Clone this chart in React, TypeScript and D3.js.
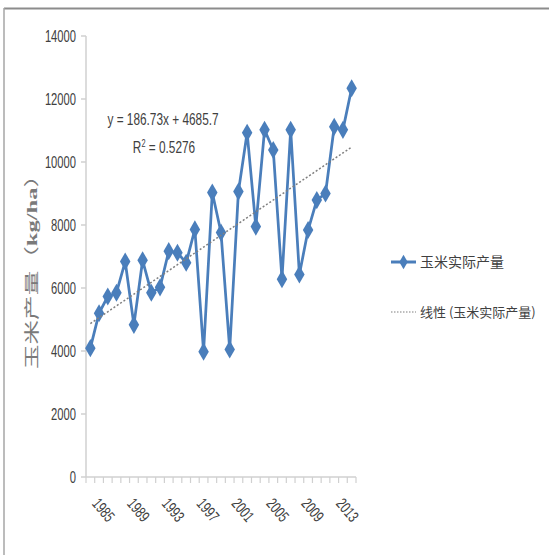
import React from "react";
import * as d3 from "d3";

const years: number[] = d3.range(1985, 2016);
const yieldValues: number[] = [
  4090, 5200, 5730, 5850, 6840, 4830, 6880, 5850, 6020, 7170,
  7120, 6800, 7860, 3980, 9030, 7760, 4050, 9060, 10930, 7950,
  11020, 10380, 6280, 11020, 6430, 7840, 8790, 9000, 11120, 11020,
  12340,
];
const yTicks: number[] = [0, 2000, 4000, 6000, 8000, 10000, 12000, 14000];
const xLabelYears: number[] = [1985, 1989, 1993, 1997, 2001, 2005, 2009, 2013];
const slope = 186.73;
const intercept = 4685.7;
const eqText = "y = 186.73x + 4685.7";
const r2Value = "0.5276";
const seriesName = "玉米实际产量";
const trendName = "线性 (玉米实际产量)";

const BLUE = "#4A7EBB";
const SANS = "'Liberation Sans', Arial, sans-serif";
const SX = 0.7;

export default function App() {
  const W = 549, H = 555;
  const left = 86, right = 356, top = 36, bottom = 477;
  const x = d3.scaleBand<number>().domain(years).range([left, right]);
  const y = d3.scaleLinear().domain([0, 14000]).range([bottom, top]);
  const cx = (yr: number) => (x(yr) as number) + x.bandwidth() / 2;

  const line = d3.line<number>().x((_, i) => cx(years[i])).y((v) => y(v));
  const trendPts = years.map((yr, i) => [cx(yr), y(slope * (i + 1) + intercept)] as [number, number]);
  const trendPath = d3.line()(trendPts) as string;
  const diamond = d3.symbol().type(d3.symbolDiamond).size(95)() as string;
  const boundaries = years.map((yr) => x(yr) as number).concat([right]);

  return (
    <svg width={W} height={H} style={{ position: "absolute", left: 0, top: 0, background: "#fff" }}>
      {/* frame */}
      <line x1={4} y1={8.5} x2={W} y2={8.5} stroke="#8c8c8c" strokeWidth={2} />
      <line x1={4} y1={8} x2={4} y2={H} stroke="#a6a6a6" strokeWidth={1.5} />

      {/* y axis */}
      <line x1={left} y1={top} x2={left} y2={bottom} stroke="#d0d0d0" strokeWidth={1.5} />
      {yTicks.map((t) => (
        <g key={t}>
          <line x1={left - 5} x2={left} y1={y(t)} y2={y(t)} stroke="#d0d0d0" strokeWidth={1.5} />
          <text
            transform={`translate(${left - 10},${y(t)}) scale(${SX},1)`}
            dy="0.36em"
            textAnchor="end"
            fontFamily={SANS}
            fontSize={16}
            fill="#404040"
          >
            {t}
          </text>
        </g>
      ))}

      {/* x axis */}
      <line x1={left} y1={bottom} x2={right} y2={bottom} stroke="#d0d0d0" strokeWidth={1.5} />
      {boundaries.map((b, i) => (
        <line key={i} x1={b} x2={b} y1={bottom} y2={bottom + 6} stroke="#d0d0d0" strokeWidth={1.2} />
      ))}
      {xLabelYears.map((yr) => (
        <text
          key={yr}
          transform={`translate(${cx(yr) + 1},${bottom + 27}) rotate(50) scale(${SX},1)`}
          fontFamily={SANS}
          fontSize={16}
          fill="#404040"
        >
          {yr}
        </text>
      ))}

      {/* y title */}
      <text
        transform={`translate(37,266) rotate(-90)`}
        textAnchor="middle"
        fontFamily="'Noto Sans CJK SC', sans-serif"
        fontSize={15}
        fill="#7a7a7a"
        textLength={206}
        lengthAdjust="spacingAndGlyphs"
      >
        玉米产量（<tspan fontFamily="'Liberation Serif', serif" fontWeight="bold">kg/ha</tspan>）
      </text>

      {/* series */}
      <path d={line(yieldValues) as string} fill="none" stroke={BLUE} strokeWidth={2.75} strokeLinejoin="round" />
      {yieldValues.map((v, i) => (
        <path key={i} d={diamond} transform={`translate(${cx(years[i])},${y(v)})`} fill={BLUE} />
      ))}

      {/* trend */}
      <path d={trendPath} fill="none" stroke="#7f7f7f" strokeWidth={1.5} strokeDasharray="2,2" />

      {/* equation */}
      <text
        transform={`translate(163,125) scale(0.74,1)`}
        textAnchor="middle"
        fontFamily={SANS}
        fontSize={16}
        fill="#404040"
      >
        {eqText}
      </text>
      <text
        transform={`translate(164,153) scale(0.74,1)`}
        textAnchor="middle"
        fontFamily={SANS}
        fontSize={16}
        fill="#404040"
      >
        R<tspan dy={-6} fontSize={10}>2</tspan>
        <tspan dy={6}> = {r2Value}</tspan>
      </text>

      {/* legend */}
      <line x1={391} x2={416} y1={262} y2={262} stroke={BLUE} strokeWidth={3} />
      <path d={diamond} transform="translate(403.5,262) scale(0.8)" fill={BLUE} />
      <text x={420} y={262} dy="0.35em" fontFamily="'Noto Sans CJK SC', sans-serif" fontSize={14} fill="#404040">
        {seriesName}
      </text>
      <line x1={391} x2={416} y1={312} y2={312} stroke="#7f7f7f" strokeWidth={1.2} strokeDasharray="1.5,1.5" />
      <text x={420} y={312} dy="0.35em" fontFamily="'Noto Sans CJK SC', sans-serif" fontSize={13} fill="#404040">
        {trendName}
      </text>
    </svg>
  );
}
